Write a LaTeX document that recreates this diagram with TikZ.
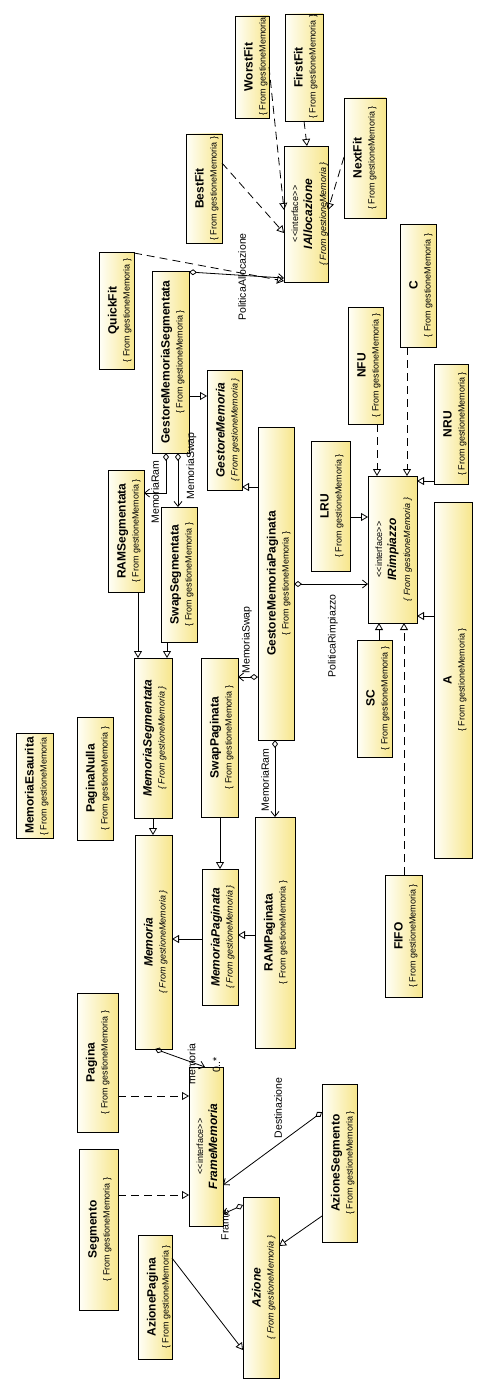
\documentclass[tikz,border=0pt]{standalone}
\usepackage{fontspec}
\setmainfont{Liberation Sans}
\usetikzlibrary{arrows.meta,calc}

\definecolor{boxyellow}{RGB}{247,230,140}
\definecolor{boxwhite}{RGB}{255,255,248}

% fonts of the class boxes and role labels
\newcommand\namefont{\fontsize{12}{14}\selectfont\bfseries}
\newcommand\namefontit{\fontsize{12}{14}\selectfont\bfseries\itshape}
\newcommand\subfont{\fontsize{9}{11}\selectfont}
\newcommand\subfontit{\fontsize{9}{11}\selectfont\itshape}
\newcommand\stereofont{\fontsize{9}{11}\selectfont}
\newcommand\fromtxt{\{ From gestioneMemoria \}}
% stereotype brackets kept apart so they are not joined into guillemets
\newcommand\stereo[1]{<\kern0.6pt<#1>\kern0.6pt>}

\tikzset{
  umlbox/.style={rectangle, draw=black, line width=0.9pt, left color=boxwhite,
    right color=boxyellow, inner sep=0pt, outer sep=0pt},
  gen/.style={draw=black, line width=0.8pt, -{Triangle[open, length=7pt, width=8pt]}},
  real/.style={gen, dash pattern=on 8pt off 5pt},
  agg/.style={draw=black, line width=0.8pt,
    {Diamond[open, length=8pt, width=6pt]}-{Straight Barb[length=5pt, width=8pt]}},
  rolelabel/.style={rotate=90, font=\fontsize{10.5}{12}\selectfont, inner sep=0pt},
}

% a box: #1 name, #2 left, #3 top, #4 right, #5 bottom, #6 text drawn (clipped) inside
\newcommand\umlnode[6]{%
  \node[umlbox, minimum width={(#4-#2)*1pt}, minimum height={(#5-#3)*1pt},
    path picture={#6}] (#1) at ({(#2+#4)/2},{(#3+#5)/2}) {};}
% one line of vertical text, baseline #1 pt from the left side, centred
\newcommand\txtline[3]{\node[rotate=90, anchor=base, font=#2, inner sep=0pt]
  at ([xshift=#1pt]path picture bounding box.west) {#3};}
% one line of vertical text starting at the bottom of the box
\newcommand\txtlow[3]{\node[rotate=90, anchor=base west, font=#2, inner sep=0pt]
  at ([xshift=#1pt, yshift=2.5pt]path picture bounding box.south west) {#3};}

\newcommand\cls[6]{\umlnode{#1}{#2}{#3}{#4}{#5}{%
  \txtline{17.5}{\namefont}{#6}\txtline{30.5}{\subfont}{\fromtxt}}}
\newcommand\clslow[6]{\umlnode{#1}{#2}{#3}{#4}{#5}{%
  \txtline{17.5}{\namefont}{#6}\txtlow{30.5}{\subfont}{\fromtxt}}}
\newcommand\abscls[6]{\umlnode{#1}{#2}{#3}{#4}{#5}{%
  \txtline{17.5}{\namefontit}{#6}\txtline{30.5}{\subfontit}{\fromtxt}}}
\newcommand\intf[6]{\umlnode{#1}{#2}{#3}{#4}{#5}{%
  \txtline{14}{\stereofont}{\stereo{interface}}%
  \txtline{28}{\namefontit}{#6}\txtline{42}{\subfontit}{\fromtxt}}}

\begin{document}
\begin{tikzpicture}[x=1pt,y=-1pt]
\useasboundingbox (0,0) rectangle (487,1394);
\fill[white] (0,0) rectangle (487,1394);

% ---- classes and interfaces ----
\clslow{WorstFit}{235}{16}{269}{118}{WorstFit}
\clslow{FirstFit}{285}{14}{323}{121}{FirstFit}
\intf{IAllocazione}{284}{146}{328}{282}{IAllocazione}
\cls{NextFit}{344}{98}{386}{218}{NextFit}
\clslow{BestFit}{186}{134}{222}{243}{BestFit}
\cls{QuickFit}{99}{252}{134}{369}{QuickFit}
\cls{GMS}{152}{271}{189}{453}{GestoreMemoriaSegmentata}
\abscls{GestoreMemoria}{207}{370}{242}{490}{GestoreMemoria}
\cls{C}{400}{224}{436}{347}{C}
\cls{NFU}{348}{307}{383}{424}{NFU}
\cls{NRU}{434}{364}{468}{484}{NRU}
\cls{RAMSegmentata}{108}{470}{144}{592}{RAMSegmentata}
\cls{SwapSegmentata}{161}{507}{197}{642}{SwapSegmentata}
\cls{GMP}{258}{427}{294}{740}{GestoreMemoriaPaginata}
\cls{LRU}{311}{441}{350}{571}{LRU}
\intf{IRimpiazzo}{368}{476}{417}{623}{IRimpiazzo}
\cls{A}{434}{502}{472}{858}{A}
\cls{SC}{357}{640}{392}{757}{SC}
\abscls{MemoriaSegmentata}{134}{658}{172}{818}{MemoriaSegmentata}
\cls{SwapPaginata}{201}{658}{238}{817}{SwapPaginata}
\clslow{MemoriaEsaurita}{16}{733}{53}{838}{MemoriaEsaurita}
\cls{PaginaNulla}{77}{717}{113}{840}{PaginaNulla}
\abscls{Memoria}{135}{835}{172}{1049}{Memoria}
\abscls{MemoriaPaginata}{202}{869}{238}{1005}{MemoriaPaginata}
\cls{RAMPaginata}{255}{817}{295}{1048}{RAMPaginata}
\cls{FIFO}{385}{875}{422}{997}{FIFO}
\cls{Pagina}{77}{993}{118}{1132}{Pagina}
\intf{FrameMemoria}{189}{1067}{223}{1226}{FrameMemoria}
\cls{Segmento}{79}{1149}{118}{1310}{Segmento}
\cls{AzioneSegmento}{322}{1084}{357}{1242}{AzioneSegmento}
\abscls{Azione}{243}{1197}{279}{1378}{Azione}
\cls{AzionePagina}{138}{1235}{172}{1359}{AzionePagina}

% ---- allocation policies ----
\draw[real] (WorstFit.east |- 0,67) -- (IAllocazione.west |- 0,210);
\draw[real] (FirstFit.south -| 304,0) -- (IAllocazione.north -| 307,0);
\draw[real] (NextFit.west |- 0,157) -- (IAllocazione.east |- 0,210);
\draw[real] (BestFit.east |- 0,163) -- (IAllocazione.west |- 0,233);
\draw[real] (QuickFit.east |- 0,253) -- (IAllocazione.west |- 0,281);
\draw[agg] (GMS.east |- 0,272) -- (IAllocazione.west |- 0,278);

% ---- segmented memory manager ----
\draw[gen] (GMS.east |- 0,396) -- (GestoreMemoria.west |- 0,396);
\draw[agg] (GMS.south -| 166,0) -- (166,493) -- (RAMSegmentata.east |- 0,493);
\draw[agg] (GMS.south -| 178,0) -- (SwapSegmentata.north -| 178,0);
\draw[gen] (RAMSegmentata.south -| 138,0) -- (MemoriaSegmentata.north -| 138,0);
\draw[gen] (SwapSegmentata.south -| 167,0) -- (MemoriaSegmentata.north -| 167,0);
\draw[gen] (MemoriaSegmentata.south -| 153,0) -- (Memoria.north -| 153,0);

% ---- paged memory manager ----
\draw[gen] (GMP.west |- 0,487) -- (GestoreMemoria.east |- 0,487);
\draw[agg] (GMP.west |- 0,677) -- (SwapPaginata.east |- 0,677);
\draw[agg] (GMP.south -| 275,0) -- (RAMPaginata.north -| 275,0);
\draw[agg] (GMP.east |- 0,584) -- (IRimpiazzo.west |- 0,584);
\draw[gen] (SwapPaginata.south -| 220,0) -- (MemoriaPaginata.north -| 220,0);
\draw[gen] (MemoriaPaginata.west |- 0,939) -- (Memoria.east |- 0,939);
\draw[gen] (RAMPaginata.west |- 0,935) -- (MemoriaPaginata.east |- 0,935);

% ---- replacement policies ----
\draw[gen] (LRU.east |- 0,517) -- (IRimpiazzo.west |- 0,517);
\draw[real] (NFU.south -| 377,0) -- (IRimpiazzo.north -| 377,0);
\draw[real] (C.south -| 407,0) -- (IRimpiazzo.north -| 407,0);
\draw[gen] (NRU.west |- 0,481) -- (IRimpiazzo.east |- 0,481);
\draw[gen] (A.west |- 0,616) -- (IRimpiazzo.east |- 0,616);
\draw[gen] (SC.north -| 379,0) -- (IRimpiazzo.south -| 379,0);
\draw[real] (FIFO.north -| 404,0) -- (IRimpiazzo.south -| 404,0);

% ---- frames and actions ----
\draw[agg] (Memoria.south -| 155,0) -- (FrameMemoria.north -| 205,0);
\draw[real] (Pagina.east |- 0,1096) -- (FrameMemoria.west |- 0,1096);
\draw[real] (Segmento.east |- 0,1195) -- (FrameMemoria.west |- 0,1195);
\draw[agg] (AzioneSegmento.west |- 0,1112) -- (FrameMemoria.east |- 0,1185);
\draw[agg] (Azione.west |- 0,1205) -- (FrameMemoria.east |- 0,1214);
\draw[gen] (AzionePagina.east |- 0,1258) -- (Azione.west |- 0,1350);
\draw[gen] (AzioneSegmento.west |- 0,1216) -- (Azione.east |- 0,1246);

% ---- role names ----
\node[rolelabel] (lblPA) at (242,277) {PoliticaAllocazione};
\node[rolelabel] (lblMR1) at (155,492) {MemoriaRam};
\node[rolelabel] (lblMS1) at (191.5,466) {MemoriaSwap};
\node[rolelabel] (lblMS2) at (247,640) {MemoriaSwap};
\node[rolelabel] (lblMR2) at (265,780) {MemoriaRam};
\node[rolelabel] (lblPR) at (333,636) {PoliticaRimpiazzo};
\node[rolelabel] (lblMem) at (191.5,1064) {memoria};
\node[rolelabel] (lblMult) at (216.5,1065) {0..*};
\node[rolelabel] (lblDest) at (278,1108) {Destinazione};
\node[rolelabel] (lblFrame) at (225,1225) {Frame};
\end{tikzpicture}
\end{document}
